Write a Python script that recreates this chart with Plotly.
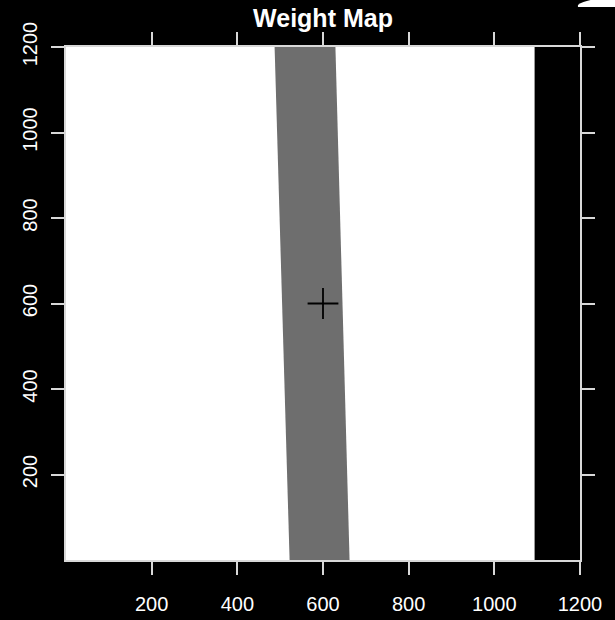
import plotly.graph_objects as go

# Weight map regions (data units, 0..1200 on both axes)
band_x_bottom = [522, 662]   # gray band left/right edge at y = 0
band_x_top = [487, 629]      # gray band left/right edge at y = 1200
band_y = [0, 1200]
mask_x = [1094, 1200]        # black zero-weight strip on the right
centre = [600, 600]          # marked centre point
tick_vals = [200, 400, 600, 800, 1000, 1200]
tick_text = ["200", "400", "600", "800", "1000", "1200"]

GRAY = "#6e6e6e"
FRAME = "#d8d8d8"

fig = go.Figure()

# gray band as a filled polygon
fig.add_trace(go.Scatter(
    x=[band_x_bottom[0], band_x_bottom[1], band_x_top[1], band_x_top[0], band_x_bottom[0]],
    y=[band_y[0], band_y[0], band_y[1], band_y[1], band_y[0]],
    mode="lines", fill="toself", fillcolor=GRAY,
    line=dict(width=0, color=GRAY), hoverinfo="skip", showlegend=False,
))

# black strip on the right
fig.add_trace(go.Scatter(
    x=[mask_x[0], mask_x[1], mask_x[1], mask_x[0], mask_x[0]],
    y=[band_y[0], band_y[0], band_y[1], band_y[1], band_y[0]],
    mode="lines", fill="toself", fillcolor="black",
    line=dict(width=0, color="black"), hoverinfo="skip", showlegend=False,
))

# centre cross
fig.add_trace(go.Scatter(
    x=[centre[0]], y=[centre[1]], mode="markers",
    marker=dict(symbol="cross-thin", size=22, line=dict(width=1.8, color="black")),
    hoverinfo="skip", showlegend=False,
))

axis_common = dict(
    range=[0, 1200], showgrid=False, zeroline=False, automargin=False,
    showline=True, linecolor=FRAME, linewidth=1.5, mirror="allticks",
    ticks="outside", ticklen=13, tickwidth=1.5, tickcolor=FRAME,
    tickvals=tick_vals, ticktext=tick_text,
    tickfont=dict(family="Liberation Sans", size=20, color="white"),
)

fig.update_xaxes(**axis_common, ticklabelstandoff=12)
fig.update_yaxes(**axis_common, tickangle=-90, ticklabelstandoff=6)

fig.update_layout(
    width=615, height=620,
    margin=dict(l=66, r=35, t=47, b=60, autoexpand=False),
    paper_bgcolor="black", plot_bgcolor="white",
    title=dict(
        text="<b>Weight Map</b>",
        font=dict(family="Liberation Sans", size=25, color="white"),
        x=0.5, xref="paper", xanchor="center",
        y=1 - 18 / 620, yref="container", yanchor="middle",
    ),
    shapes=[dict(
        type="path", xref="paper", yref="paper",
        path="M 0.996 1.078 L 0.996 1.082 Q 1.01 1.092 1.039 1.094 L 1.07 1.094 L 1.07 1.078 Z",
        fillcolor="white", line=dict(width=0), layer="above",
    )],
)

fig.write_html("out.html")
